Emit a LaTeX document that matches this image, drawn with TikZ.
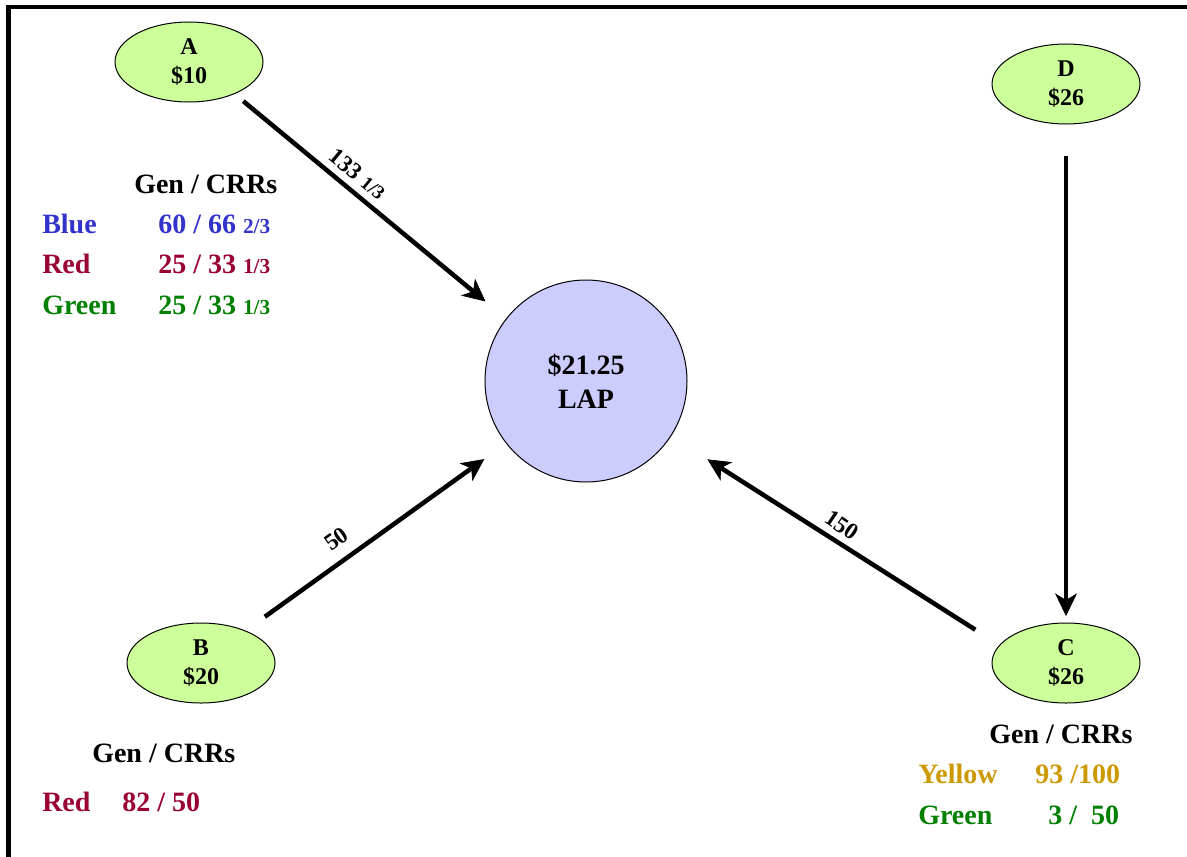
\documentclass[tikz,border=0pt]{standalone}
\usepackage{fontspec}
\setmainfont{Liberation Serif}
\usetikzlibrary{arrows.meta,shapes.geometric}
\definecolor{busfill}{HTML}{CCFF99}
\definecolor{lapfill}{HTML}{CCCCFF}
\definecolor{cblue}{HTML}{3333CC}
\definecolor{cred}{HTML}{990033}
\definecolor{cgreen}{HTML}{008000}
\definecolor{cyellow}{HTML}{CC9900}
\newcommand\smallpart[1]{{\fontsize{16}{19}\selectfont #1}}
\begin{document}
\begin{tikzpicture}[x=0.75pt,y=-0.75pt,
  bus/.style={ellipse, draw=black, line width=0.75pt, fill=busfill,
    minimum width=111pt, minimum height=60pt, inner sep=0pt, outer sep=0pt,
    align=center, font=\bfseries\fontsize{18}{21.5}\selectfont},
  lapnode/.style={circle, draw=black, line width=0.75pt, fill=lapfill,
    minimum size=151.5pt, inner sep=0pt, outer sep=0pt,
    align=center, font=\bfseries\fontsize{21}{25.5}\selectfont},
  flow/.style={line width=3.4pt,
    -{Stealth[length=17pt,width=16.5pt,inset=5pt,line width=0.5pt]}},
  flowlbl/.style={inner sep=0pt, font=\bfseries\fontsize{17.5}{20}\selectfont},
  tbl/.style={anchor=base west, inner sep=0pt,
    font=\bfseries\fontsize{21}{25}\selectfont}]
\useasboundingbox (0,0) rectangle (1187,856);
\clip (0,0) rectangle (1187,856);
% outer frame (runs off the page on the right and bottom)
\draw[line width=3.5pt] (8.5,7) rectangle (1240,900);

% buses and the load aggregation point
\node[bus] (A) at (189,62) {A\\\$10};
\node[bus] (D) at (1066,84) {D\\\$26};
\node[bus] (B) at (201,663) {B\\\$20};
\node[bus] (C) at (1066,663) {C\\\$26};
\node[lapnode] (lap) at (586,381) {\$21.25\\LAP};

% flows
\draw[flow, shorten <=8.8pt, shorten >=20.4pt] (A.-35) -- (lap.142);
\draw[flow, shorten <=18.2pt, shorten >=20.4pt] (B.36) -- (lap.-142);
\draw[flow, shorten <=21.7pt, shorten >=32.6pt] (C.165) -- (lap.-33);
\draw[flow, shorten <=24pt, shorten >=5.25pt] (D.south) -- (C.north);

\node[flowlbl, rotate=-39.6] (lblA) at (358,174) {133 {\fontsize{14.5}{16}\selectfont 1/3}};
\node[flowlbl, rotate=35] (lblB) at (336.5,539) {50};
\node[flowlbl, rotate=-34] (lblC) at (842,525) {150};

% generation / CRR tables
\node[tbl] (hA) at (134,193) {Gen / CRRs};
\node[tbl, text=cblue] (blueA) at (42,233) {Blue};
\node[tbl, text=cblue] (blueAv) at (158,233) {60 / 66 \smallpart{2/3}};
\node[tbl, text=cred] (redA) at (42,273) {Red};
\node[tbl, text=cred] (redAv) at (158,273) {25 / 33 \smallpart{1/3}};
\node[tbl, text=cgreen] (greenA) at (42,314) {Green};
\node[tbl, text=cgreen] (greenAv) at (158,314) {25 / 33 \smallpart{1/3}};

\node[tbl] (hB) at (92,762) {Gen / CRRs};
\node[tbl, text=cred] (redB) at (42,811) {Red};
\node[tbl, text=cred] (redBv) at (122,811) {82 / 50};

\node[tbl] (hC) at (989,743) {Gen / CRRs};
\node[tbl, text=cyellow] (yellowC) at (918,783) {Yellow};
\node[tbl, text=cyellow] (yellowCv) at (1035,783) {93 /100};
\node[tbl, text=cgreen] (greenC) at (918,824) {Green};
\node[tbl, text=cgreen] (greenCv) at (1048,824) {3 /\ \ 50};
\end{tikzpicture}
\end{document}
